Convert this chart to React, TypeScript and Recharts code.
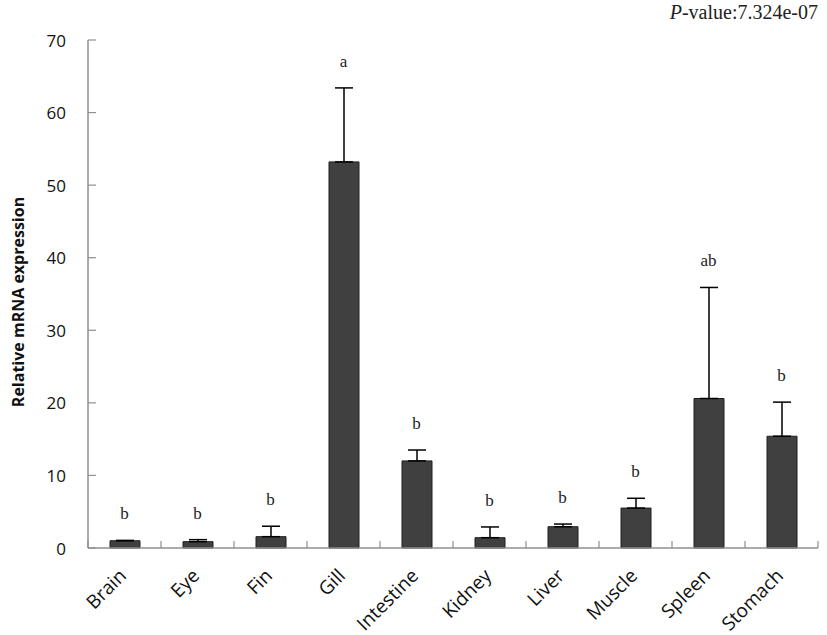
import React from 'react';
import { ComposedChart, Bar, Line, XAxis, YAxis, ErrorBar, LabelList } from 'recharts';

const categories = ['Brain', 'Eye', 'Fin', 'Gill', 'Intestine', 'Kidney', 'Liver', 'Muscle', 'Spleen', 'Stomach'];
const means = [1.0, 0.87, 1.56, 53.2, 12.0, 1.42, 2.93, 5.5, 20.6, 15.4];
const errors = [0.05, 0.28, 1.44, 10.2, 1.5, 1.48, 0.37, 1.35, 15.3, 4.7];
const letters = ['b', 'b', 'b', 'a', 'b', 'b', 'b', 'b', 'ab', 'b'];
const yTicks = [0, 10, 20, 30, 40, 50, 60, 70];

const data = categories.map((c, i) => ({
  name: c,
  mean: means[i],
  err: [0, errors[i]],
  top: means[i] + errors[i],
  letter: letters[i],
}));

const AXIS = '#8f8f8f';
const SANS = '"Open Sans", "Liberation Sans", sans-serif';
const SERIF = '"Liberation Serif", "Times New Roman", serif';

const XTick = (props: any) => {
  const { x, y, payload, index } = props;
  const half = payload && payload.offset ? payload.offset : 36.5;
  const tx = x + 3;
  const ty = y + 29;
  return (
    <g>
      <line x1={x - half} x2={x - half} y1={y} y2={y - 7} stroke={AXIS} strokeWidth={1.2} />
      {index === categories.length - 1 && (
        <line x1={x + half} x2={x + half} y1={y} y2={y - 7} stroke={AXIS} strokeWidth={1.2} />
      )}
      <text
        x={tx}
        y={ty}
        textAnchor="end"
        transform={`rotate(-45, ${tx}, ${ty})`}
        fontFamily={SANS}
        fontSize={19}
        fill="#111"
      >
        {payload.value}
      </text>
    </g>
  );
};

const YTick = (props: any) => {
  const { x, y, payload } = props;
  return (
    <g>
      <line x1={x} x2={x + 8} y1={y} y2={y} stroke={AXIS} strokeWidth={1.2} />
      <text
        x={x - 22}
        y={y}
        textAnchor="end"
        dominantBaseline="central"
        fontFamily={SANS}
        fontSize={17}
        fill="#111"
      >
        {payload.value}
      </text>
    </g>
  );
};

const LetterLabel = (props: any) => {
  const { x, y, value } = props;
  return (
    <text x={x} y={y - 21} textAnchor="middle" fontFamily={SERIF} fontSize={17} fill="#222">
      {value}
    </text>
  );
};

const YLabel = (props: any) => {
  const vb = props.viewBox || { x: 38, y: 40, width: 50, height: 508 };
  const cx = vb.x - 20;
  const cy = vb.y + vb.height / 2 + 8;
  return (
    <text
      x={cx}
      y={cy}
      textAnchor="middle"
      dominantBaseline="central"
      transform={`rotate(-90, ${cx}, ${cy})`}
      fontFamily={SANS}
      fontWeight="bold"
      fontSize={16}
      fill="#111"
    >
      Relative mRNA expression
    </text>
  );
};

export default function App() {
  return (
    <div style={{ position: 'absolute', left: 0, top: 0, width: 827, height: 635, background: '#fff' }}>
      <div
        style={{
          position: 'absolute',
          right: 9,
          top: 1,
          fontFamily: SERIF,
          fontSize: 20,
          color: '#222',
        }}
      >
        <i>P</i>-value:7.324e-07
      </div>
      <ComposedChart
        width={827}
        height={635}
        data={data}
        margin={{ top: 40, right: 9, bottom: 7, left: 38 }}
      >
        <XAxis
          dataKey="name"
          height={80}
          tickSize={0}
          tickMargin={0}
          tickLine={false}
          axisLine={{ stroke: AXIS, strokeWidth: 1.5 }}
          tick={<XTick />}
          interval={0}
        />
        <YAxis
          width={50}
          domain={[0, 70]}
          ticks={yTicks}
          tickSize={0}
          tickMargin={0}
          tickLine={false}
          axisLine={{ stroke: AXIS, strokeWidth: 1.5 }}
          tick={<YTick />}
          label={<YLabel />}
        />
        <Bar dataKey="mean" barSize={30} fill="#404040" stroke="#1e1e1e" strokeWidth={1} isAnimationActive={false}>
          <ErrorBar dataKey="err" direction="y" width={9} stroke="#000" strokeWidth={1.5} />
        </Bar>
        <Line
          dataKey="top"
          stroke="none"
          dot={false}
          activeDot={false}
          isAnimationActive={false}
          legendType="none"
        >
          <LabelList dataKey="letter" content={<LetterLabel />} />
        </Line>
      </ComposedChart>
    </div>
  );
}
